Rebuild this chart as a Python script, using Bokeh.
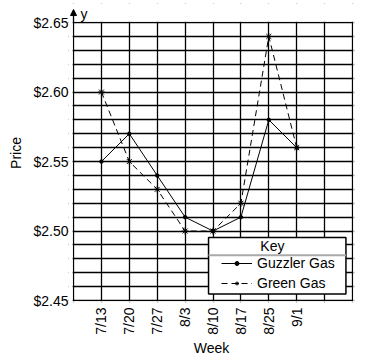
from bokeh.plotting import figure
from bokeh.models import (FixedTicker, NumeralTickFormatter, Legend, LegendItem,
                          Label, Range1d, BoxAnnotation, Arrow, NormalHead)
from bokeh.embed import file_html
from bokeh.resources import INLINE
from math import pi

weeks = ["7/13", "7/20", "7/27", "8/3", "8/10", "8/17", "8/25", "9/1"]
week_pos = [1, 2, 3, 4, 5, 6, 7, 8]
guzzler = [2.55, 2.57, 2.54, 2.51, 2.50, 2.51, 2.58, 2.56]
green = [2.60, 2.55, 2.53, 2.50, 2.50, 2.52, 2.64, 2.56]
price_ticks = [2.45, 2.50, 2.55, 2.60, 2.65]
grid_y = [2.45, 2.46, 2.47, 2.48, 2.49, 2.50, 2.51, 2.52, 2.53, 2.54, 2.55,
          2.56, 2.57, 2.58, 2.59, 2.60, 2.61, 2.62, 2.63, 2.64, 2.65]
grid_x = [0, 1, 2, 3, 4, 5, 6, 7, 8, 9, 10]

FONT = "Liberation Sans"

p = figure(frame_width=286, frame_height=299,
           x_range=Range1d(-0.18, 10.072), y_range=Range1d(2.4486, 2.6637),
           output_backend="svg", toolbar_location=None,
           min_border_left=68, min_border_right=20, min_border_top=3, min_border_bottom=54)
p.title.text = ""
p.title.standoff = 0
p.background_fill_color = "white"
p.border_fill_color = "white"
p.outline_line_color = None

# grid
p.xgrid.ticker = FixedTicker(ticks=grid_x)
p.ygrid.ticker = FixedTicker(ticks=grid_y)
for g in (p.xgrid[0], p.ygrid[0]):
    g.grid_line_color = "black"
    g.grid_line_width = 1.3
    g.grid_line_alpha = 1.0

# y axis
ya = p.yaxis[0]
ya.ticker = FixedTicker(ticks=price_ticks)
ya.formatter = NumeralTickFormatter(format="$0.00")
ya.major_tick_line_color = None
ya.minor_tick_line_color = None
ya.major_tick_out = 0
ya.major_tick_in = 0
ya.minor_tick_out = 0
ya.axis_line_color = None
ya.major_label_standoff = 0
ya.major_label_text_font = FONT
ya.major_label_text_font_size = "14px"
ya.major_label_text_color = "black"
ya.axis_label = "Price"
ya.axis_label_text_font = FONT
ya.axis_label_text_font_size = "14px"
ya.axis_label_text_font_style = "normal"
ya.axis_label_text_color = "black"
ya.axis_label_standoff = 6

# x axis
xa = p.xaxis[0]
xa.ticker = FixedTicker(ticks=week_pos)
xa.major_label_overrides = {pos: w for pos, w in zip(week_pos, weeks)}
xa.major_label_orientation = pi / 2
xa.major_tick_line_color = None
xa.minor_tick_line_color = None
xa.major_tick_out = 0
xa.major_tick_in = 0
xa.minor_tick_out = 0
xa.axis_line_color = None
xa.major_label_standoff = 5
xa.major_label_text_font = FONT
xa.major_label_text_font_size = "14px"
xa.major_label_text_color = "black"
xa.axis_label = "Week"
xa.axis_label_text_font = FONT
xa.axis_label_text_font_size = "14px"
xa.axis_label_text_font_style = "normal"
xa.axis_label_text_color = "black"
xa.axis_label_standoff = 2

# white masks outside the gridded area (frame is padded for the axis arrow)
for kw in (dict(right=-0.03), dict(left=10.03), dict(bottom=2.6505), dict(top=2.4495)):
    p.add_layout(BoxAnnotation(fill_color="white", fill_alpha=1.0, line_color=None, **kw))

# data
l1 = p.line(week_pos, guzzler, line_color="black", line_width=1)
s1 = p.scatter(week_pos, guzzler, marker="circle", size=3.5, color="black")
l2 = p.line(week_pos, green, line_color="black", line_width=1, line_dash="6 4")
s2 = p.scatter(week_pos, green, marker="asterisk", size=7, line_color="black", line_width=1)

# y axis arrow and "y"
p.add_layout(Arrow(x_start=0, y_start=2.65, x_end=0, y_end=2.6594,
                   line_color="black", line_width=1.3,
                   end=NormalHead(size=6, fill_color="black", line_color="black", line_width=1)))
p.add_layout(Label(x=0, y=2.65, x_offset=7, y_offset=9, text="y", text_baseline="alphabetic",
                   text_font=FONT, text_font_size="14px", text_color="black"))

# legend box, key and separator
p.add_layout(BoxAnnotation(left=4.84, right=9.765, bottom=2.4548, top=2.4953,
                           fill_color="white", fill_alpha=1.0,
                           line_color="black", line_width=1.5, line_alpha=1.0))
legend = Legend(items=[LegendItem(label="Guzzler Gas", renderers=[l1, s1]),
                       LegendItem(label="Green Gas", renderers=[l2, s2])],
                location=(153, 10))
legend.label_text_font = FONT
legend.label_text_font_size = "14px"
legend.label_text_color = "black"
legend.label_height = 18
legend.glyph_width = 31
legend.glyph_height = 10
legend.spacing = 2
legend.padding = 0
legend.margin = 0
legend.label_standoff = 5
legend.border_line_color = None
legend.background_fill_alpha = 0.0
p.add_layout(legend, "center")
p.add_layout(BoxAnnotation(left=4.84, right=9.765, bottom=2.4819, top=2.4833,
                           fill_color="#aaaaaa", fill_alpha=1.0, line_color=None))
p.add_layout(Label(x=7.13, y=2.4896, text="Key", text_align="center", text_baseline="middle",
                   text_font=FONT, text_font_size="14px", text_color="black"))

open("out.html", "w").write(file_html(p, INLINE))
